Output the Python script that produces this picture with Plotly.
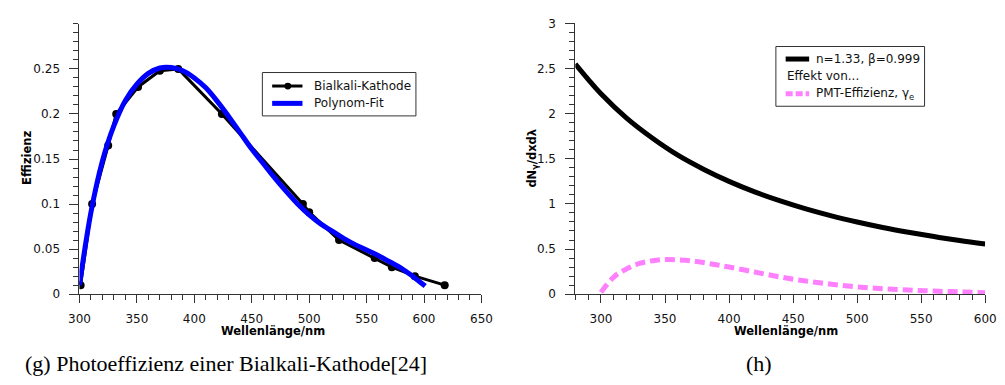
import plotly.graph_objects as go

# ---------------- data ----------------
# (g) Bialkali cathode photo-efficiency
bialkali_wl = [301, 311, 325, 332, 351, 370, 386, 424, 494.5, 500, 526, 557, 572, 592, 618]
bialkali_eff = [0.01, 0.10, 0.165, 0.20, 0.23, 0.248, 0.25, 0.20, 0.10, 0.091, 0.06, 0.04, 0.03, 0.02, 0.01]

fit_wl = [300, 310, 320, 330, 340, 350, 360, 370, 380, 390, 400, 410, 420, 430, 440, 450,
          460, 470, 480, 490, 500, 510, 520, 530, 540, 550, 560, 570, 580, 590, 601]
fit_eff = [0.010, 0.091, 0.148, 0.187, 0.215, 0.233, 0.245, 0.251, 0.2515, 0.248, 0.240,
           0.229, 0.214, 0.197, 0.179, 0.161, 0.145, 0.129, 0.114, 0.100, 0.088, 0.078,
           0.070, 0.062, 0.055, 0.049, 0.043, 0.036, 0.029, 0.020, 0.009]

# (h) Cherenkov spectrum and with PMT efficiency
ch_wl = [280, 290, 300, 320, 340, 360, 380, 400, 420, 440, 460, 480, 500, 520, 540, 560, 580, 600]
ch_val = [2.55, 2.38, 2.22, 1.95, 1.73, 1.54, 1.385, 1.25, 1.133, 1.033, 0.945, 0.868,
          0.80, 0.739, 0.686, 0.638, 0.594, 0.555]

pmt_wl = [300, 310, 320, 330, 340, 350, 360, 370, 380, 390, 400, 420, 440, 460, 480,
          500, 520, 540, 560, 580, 600]
pmt_val = [0.02, 0.19, 0.28, 0.34, 0.37, 0.385, 0.38, 0.37, 0.35, 0.325, 0.30, 0.245,
           0.19, 0.145, 0.11, 0.08, 0.06, 0.045, 0.034, 0.025, 0.015]

left_yticks = [0, 0.05, 0.1, 0.15, 0.2, 0.25]

FONT = "DejaVu Sans"
AX = "#333333"
W, H = 1005, 385


def px(x):
    return x / W


def py(y):
    return 1 - y / H


fig = go.Figure()

fig.add_trace(go.Scatter(x=bialkali_wl, y=bialkali_eff, mode="lines+markers",
                         line=dict(color="black", width=3),
                         marker=dict(color="black", size=8),
                         xaxis="x", yaxis="y", showlegend=False))
fig.add_trace(go.Scatter(x=fit_wl, y=fit_eff, mode="lines", line_shape="spline",
                         line=dict(color="#0000ff", width=5),
                         xaxis="x", yaxis="y", showlegend=False))

fig.add_trace(go.Scatter(x=ch_wl, y=ch_val, mode="lines", line_shape="spline",
                         line=dict(color="black", width=5),
                         xaxis="x2", yaxis="y2", showlegend=False))
fig.add_trace(go.Scatter(x=pmt_wl, y=pmt_val, mode="lines", line_shape="spline",
                         line=dict(color="#ff80ff", width=5, dash="10px,5px"),
                         xaxis="x2", yaxis="y2", showlegend=False))

axis_common = dict(showline=True, linecolor=AX, linewidth=1, showgrid=False,
                   zeroline=False, ticks="outside", tickcolor=AX, tickwidth=1,
                   tickfont=dict(family=FONT, size=12, color="#111"))

fig.update_layout(
    width=W, height=H, margin=dict(l=0, r=0, t=0, b=0),
    paper_bgcolor="white", plot_bgcolor="white",
    xaxis=dict(domain=[px(70), px(481)], range=[300, 650], tick0=300, dtick=50,
               ticklen=8, minor=dict(dtick=10, tick0=300, ticklen=5, ticks="outside",
                                     tickcolor=AX),
               anchor="y", ticklabelstandoff=5, **axis_common),
    yaxis=dict(domain=[py(298), py(17.5)], range=[0, 0.3], tickmode="array",
               tickvals=left_yticks, ticklen=9,
               minor=dict(tickmode="linear", dtick=0.01, tick0=0, ticklen=5,
                          ticks="outside", tickcolor=AX),
               anchor="x", ticklabelstandoff=7, **axis_common),
    xaxis2=dict(domain=[px(577), px(996)], range=[280, 600], tick0=300, dtick=50,
                ticklen=8, minor=dict(dtick=10, tick0=300, ticklen=5, ticks="outside",
                                      tickcolor=AX),
                anchor="y2", ticklabelstandoff=5, **axis_common),
    yaxis2=dict(domain=[py(298), py(17)], range=[0, 3], tick0=0, dtick=0.5, ticklen=9,
                minor=dict(dtick=0.1, tick0=0, ticklen=5, ticks="outside", tickcolor=AX),
                anchor="x2", ticklabelstandoff=7, **axis_common),
)

ann = []
title_font = dict(family=FONT, size=11.5, color="black")
ann.append(dict(text="<b>Wellenlänge/nm</b>", x=px(268), y=py(336), xref="paper", yref="paper",
                showarrow=False, font=title_font, xanchor="center", yanchor="middle"))
ann.append(dict(text="<b>Wellenlänge/nm</b>", x=px(792), y=py(336), xref="paper", yref="paper",
                showarrow=False, font=title_font, xanchor="center", yanchor="middle"))
ann.append(dict(text="<b>Effizienz</b>", x=px(17), y=py(157), xref="paper", yref="paper",
                showarrow=False, font=title_font, textangle=-90,
                xanchor="center", yanchor="middle"))
ann.append(dict(text="<b>dN<sub>γ</sub>/dxdλ</b>", x=px(533), y=py(157), xref="paper",
                yref="paper", showarrow=False, font=title_font, textangle=-90,
                xanchor="center", yanchor="middle"))

# captions
cap_font = dict(family="Liberation Serif", size=22, color="black")
ann.append(dict(text="(g) Photoeffizienz einer Bialkali-Kathode[24]", x=px(12), y=py(370),
                xref="paper", yref="paper", showarrow=False, font=cap_font,
                xanchor="left", yanchor="middle"))
ann.append(dict(text="(h)", x=px(765), y=py(370), xref="paper", yref="paper",
                showarrow=False, font=cap_font, xanchor="center", yanchor="middle"))

leg_font = dict(family=FONT, size=12, color="#111")
# left legend entries
ann.append(dict(text="Bialkali-Kathode", x=px(308), y=py(82), xref="paper", yref="paper",
                showarrow=False, font=leg_font, xanchor="left", yanchor="middle"))
ann.append(dict(text="Polynom-Fit", x=px(308), y=py(100), xref="paper", yref="paper",
                showarrow=False, font=leg_font, xanchor="left", yanchor="middle"))
# right legend entries
ann.append(dict(text="n=1.33, β=0.999", x=px(821), y=py(54), xref="paper", yref="paper",
                showarrow=False, font=leg_font, xanchor="left", yanchor="middle"))
ann.append(dict(text="Effekt von...", x=px(791), y=py(72), xref="paper", yref="paper",
                showarrow=False, font=leg_font, xanchor="left", yanchor="middle"))
ann.append(dict(text="PMT-Effizienz, γ<sub>e</sub>", x=px(821), y=py(90), xref="paper",
                yref="paper", showarrow=False, font=leg_font, xanchor="left",
                yanchor="middle"))

shapes = []
# left legend box
shapes.append(dict(type="rect", xref="paper", yref="paper", x0=px(257), x1=px(414),
                   y0=py(68), y1=py(113), line=dict(color=AX, width=1), fillcolor="white",
                   layer="above"))
shapes.append(dict(type="line", xref="paper", yref="paper", x0=px(267), x1=px(298),
                   y0=py(82), y1=py(82), line=dict(color="black", width=3)))
shapes.append(dict(type="circle", xref="paper", yref="paper", x0=px(279.5), x1=px(286.5),
                   y0=py(85.5), y1=py(78.5), line=dict(color="black", width=0),
                   fillcolor="black"))
shapes.append(dict(type="line", xref="paper", yref="paper", x0=px(267), x1=px(298),
                   y0=py(100), y1=py(100), line=dict(color="#0000ff", width=5)))
# right legend box
shapes.append(dict(type="rect", xref="paper", yref="paper", x0=px(782), x1=px(934),
                   y0=py(41), y1=py(103), line=dict(color=AX, width=1), fillcolor="white",
                   layer="above"))
shapes.append(dict(type="line", xref="paper", yref="paper", x0=px(792), x1=px(816),
                   y0=py(54), y1=py(54), line=dict(color="black", width=5)))
shapes.append(dict(type="line", xref="paper", yref="paper", x0=px(792), x1=px(816),
                   y0=py(90), y1=py(90), line=dict(color="#ff80ff", width=5, dash="7px,3px")))

fig.update_layout(annotations=ann, shapes=shapes)

fig.write_html("out.html")
